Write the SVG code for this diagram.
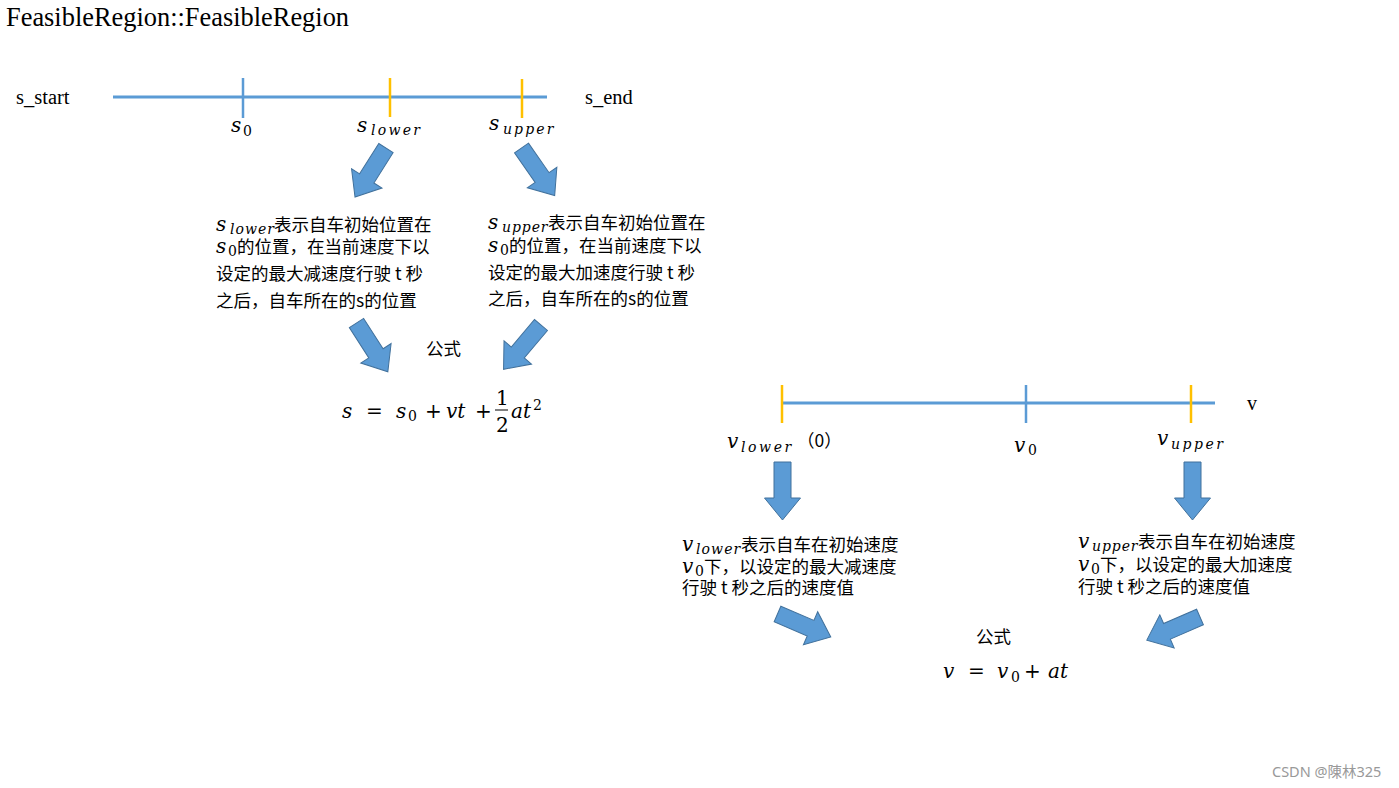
<svg xmlns="http://www.w3.org/2000/svg" xmlns:xlink="http://www.w3.org/1999/xlink" width="1399" height="788" viewBox="0 0 1399 788">
<style>
.ser{font-family:"Liberation Serif","Times New Roman",serif;fill:#000}
.cjk{font-family:"Noto Sans CJK SC","Noto Sans",sans-serif;font-size:17.5px;fill:#000}
.m{font-family:"DejaVu Serif",serif;font-style:italic;font-size:20px;fill:#000}
.sub{font-family:"DejaVu Serif",serif;font-style:italic;font-size:14px;fill:#000}
.subn{font-family:"DejaVu Serif",serif;font-style:normal;font-size:14px;fill:#000}
.op{font-family:"DejaVu Serif",serif;font-size:20px;fill:#000}
.c{font-family:"Noto Sans CJK SC","Noto Sans",sans-serif;font-style:normal;font-size:17.5px}
.axis{stroke:#5B9BD5;stroke-width:3;fill:none}
.tb{stroke:#5B9BD5;stroke-width:2.5}
.to{stroke:#FFC000;stroke-width:2.5}
.arr{fill:#5B9BD5;stroke:#41719C;stroke-width:1}
</style>
<defs>
<polygon id="arr" points="0,-8.5 36,-8.5 36,-18 58,0 36,18 36,8.5 0,8.5"/>
</defs>
<rect width="1399" height="788" fill="#fff"/>
<text id="title" class="ser" x="6" y="26" font-size="26.4">FeasibleRegion::FeasibleRegion</text>

<g id="s-axis">
<line class="axis" x1="113" y1="97" x2="547" y2="97"/>
<line class="tb" x1="243" y1="78" x2="243" y2="118"/>
<line class="to" x1="390" y1="78" x2="390" y2="117"/>
<line class="to" x1="522" y1="79" x2="522" y2="118"/>
<text class="ser" x="16" y="104" font-size="20.5">s_start</text>
<text class="ser" x="585" y="104" font-size="20.5">s_end</text>
</g>
<g id="s-labels">
<text class="m" x="231" y="132">s<tspan class="subn" x="243" dy="4">0</tspan></text>
<text class="m" x="357" y="132">s<tspan class="sub" x="371" dy="3" letter-spacing="2.3">lower</tspan></text>
<text class="m" x="489" y="130">s<tspan class="sub" x="503" dy="4" letter-spacing="2.1">upper</tspan></text>
</g>

<g id="s-lower-desc">
<text class="m" x="216" y="231" font-size="18">s<tspan class="sub" x="230" dy="3" font-size="13" letter-spacing="1">lower</tspan><tspan class="c" x="274" dy="-3">表示自车初始位置在</tspan></text>
<text class="m" x="216" y="253" font-size="18">s<tspan class="subn" x="228" dy="3" font-size="13">0</tspan><tspan class="c" x="237" dy="-3">的位置，在当前速度下以</tspan></text>
<text class="cjk" x="216" y="280">设定的最大减速度行驶 t 秒</text>
<text class="cjk" x="216" y="307">之后，自车所在的s的位置</text>
</g>
<g id="s-upper-desc">
<text class="m" x="488" y="229" font-size="18">s<tspan class="sub" x="502" dy="3" font-size="13" letter-spacing="0.9">upper</tspan><tspan class="c" x="548" dy="-3">表示自车初始位置在</tspan></text>
<text class="m" x="488" y="252" font-size="18">s<tspan class="subn" x="500" dy="3" font-size="13">0</tspan><tspan class="c" x="509" dy="-3">的位置，在当前速度下以</tspan></text>
<text class="cjk" x="488" y="279">设定的最大加速度行驶 t 秒</text>
<text class="cjk" x="488" y="305">之后，自车所在的s的位置</text>
</g>
<g id="s-formula">
<text class="cjk" x="426" y="355" font-size="19.5">公式</text>
<text class="m" x="342" y="418">s<tspan class="op" x="366">=</tspan><tspan x="396">s</tspan><tspan class="subn" x="408" dy="3">0</tspan><tspan class="op" x="425" dy="-3">+</tspan><tspan x="446">vt</tspan><tspan class="op" x="475">+</tspan><tspan x="511">at</tspan><tspan class="subn" x="533" dy="-8" font-size="13">2</tspan></text>
<text class="op" x="496" y="405" font-size="18">1</text>
<line x1="495" y1="410" x2="508" y2="410" stroke="#000" stroke-width="1"/>
<text class="op" x="496" y="432" font-size="18">2</text>
</g>

<g id="v-axis">
<line class="axis" x1="782" y1="403" x2="1215" y2="403"/>
<line class="to" x1="782" y1="385" x2="782" y2="423"/>
<line class="tb" x1="1026" y1="385" x2="1026" y2="423"/>
<line class="to" x1="1191" y1="385" x2="1191" y2="423"/>
<text class="ser" x="1247" y="410" font-size="20">v</text>
</g>
<g id="v-labels">
<text class="m" x="727" y="448">v<tspan class="sub" x="741" dy="4" letter-spacing="2.6">lower</tspan></text>
<text class="cjk" x="797" y="447" font-size="22">（0）</text>
<text class="m" x="1014" y="452">v<tspan class="subn" x="1028" dy="3">0</tspan></text>
<text class="m" x="1157" y="445">v<tspan class="sub" x="1171" dy="4" letter-spacing="2.5">upper</tspan></text>
</g>

<g id="v-lower-desc">
<text class="m" x="682" y="551" font-size="18">v<tspan class="sub" x="696" dy="3" font-size="13" letter-spacing="1.1">lower</tspan><tspan class="c" x="741" dy="-3">表示自车在初始速度</tspan></text>
<text class="m" x="682" y="573" font-size="18">v<tspan class="subn" x="695" dy="3" font-size="13">0</tspan><tspan class="c" x="704" dy="-3">下，以设定的最大减速度</tspan></text>
<text class="cjk" x="682" y="594">行驶 t 秒之后的速度值</text>
</g>
<g id="v-upper-desc">
<text class="m" x="1078" y="548" font-size="18">v<tspan class="sub" x="1092" dy="3" font-size="13" letter-spacing="0.9">upper</tspan><tspan class="c" x="1138" dy="-3">表示自车在初始速度</tspan></text>
<text class="m" x="1078" y="571" font-size="18">v<tspan class="subn" x="1091" dy="3" font-size="13">0</tspan><tspan class="c" x="1100" dy="-3">下，以设定的最大加速度</tspan></text>
<text class="cjk" x="1078" y="593">行驶 t 秒之后的速度值</text>
</g>
<g id="v-formula">
<text class="cjk" x="976" y="643" font-size="20">公式</text>
<text class="m" x="943" y="678">v<tspan class="op" x="968">=</tspan><tspan x="997">v</tspan><tspan class="subn" x="1011" dy="4">0</tspan><tspan class="op" x="1024" dy="-4">+</tspan><tspan x="1048">at</tspan></text>
</g>

<g id="connectors" class="arr">
<use xlink:href="#arr" transform="translate(386,148) rotate(122.3)"/>
<use xlink:href="#arr" transform="translate(521.5,148) rotate(55.1)"/>
<use xlink:href="#arr" transform="translate(356.5,323) rotate(57.3)"/>
<use xlink:href="#arr" transform="translate(541,325) rotate(130.2)"/>
<use xlink:href="#arr" transform="translate(782.5,462) rotate(90)"/>
<use xlink:href="#arr" transform="translate(1192.5,462) rotate(90)"/>
<use xlink:href="#arr" transform="translate(777.5,614) rotate(23.3)"/>
<use xlink:href="#arr" transform="translate(1200,617) rotate(156.5)"/>
</g>

<text id="watermark" x="1272" y="777" font-family="'Noto Sans','Noto Sans CJK TC',sans-serif" font-size="14.5" fill="#999">CSDN @陳林325</text>
</svg>
